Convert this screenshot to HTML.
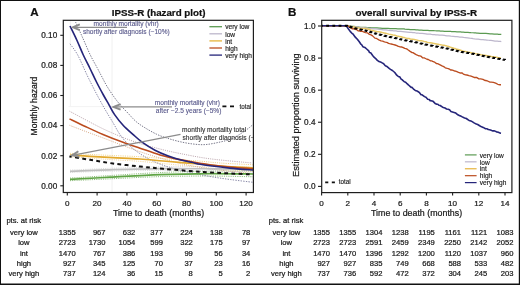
<!DOCTYPE html>
<html><head><meta charset="utf-8"><style>
html,body{margin:0;padding:0;background:#fff;}
body{width:520px;height:285px;overflow:hidden;position:relative;}
svg{position:absolute;left:0;top:0;}
text{font-family:"Liberation Sans", sans-serif;}
svg{will-change:transform;}
</style></head><body>
<svg width="520" height="285" viewBox="0 0 520 285" font-family='"Liberation Sans", sans-serif'>
<rect x="0" y="0" width="520" height="285" fill="#fff"/>
<defs><clipPath id="cl"><rect x="63.3" y="20.3" width="190.10000000000002" height="172.2"/></clipPath><clipPath id="cr"><rect x="321.7" y="20.3" width="190.2" height="172.1"/></clipPath></defs>
<g clip-path="url(#cl)">
<line x1="112.00" y1="20.3" x2="112.00" y2="192.5" stroke="#ececec" stroke-width="0.8"/>
<line x1="70.4" y1="20.3" x2="70.4" y2="106.6" stroke="#f0f0f0" stroke-width="0.8"/>
<line x1="68.6" y1="106.6" x2="113" y2="106.6" stroke="#efefef" stroke-width="0.8"/>
<path d="M70.00,178.10 C76.67,177.68 95.00,176.50 110.00,175.57 C125.00,174.65 143.33,173.30 160.00,172.57 C176.67,171.83 194.33,171.39 210.00,171.16 C225.67,170.93 246.67,171.19 254.00,171.20" fill="none" stroke="#7fb46a" stroke-width="0.9" stroke-dasharray="1.1,1.1" stroke-dashoffset="0" stroke-opacity="1" stroke-linecap="butt"/>
<path d="M70.00,180.70 C76.67,180.39 95.00,179.50 110.00,178.83 C125.00,178.15 143.33,177.10 160.00,176.63 C176.67,176.17 194.33,176.01 210.00,176.04 C225.67,176.07 246.67,176.67 254.00,176.80" fill="none" stroke="#7fb46a" stroke-width="0.9" stroke-dasharray="1.1,1.1" stroke-dashoffset="0" stroke-opacity="1" stroke-linecap="butt"/>
<path d="M70.00,170.10 C76.67,169.81 95.00,168.89 110.00,168.34 C125.00,167.79 143.33,167.08 160.00,166.81 C176.67,166.53 194.67,166.63 210.00,166.68 C225.33,166.73 245.00,167.03 252.00,167.10" fill="none" stroke="#d2d2d2" stroke-width="0.8" stroke-dasharray="1.1,1.1" stroke-dashoffset="0" stroke-opacity="1" stroke-linecap="butt"/>
<path d="M70.00,172.50 C76.67,172.29 95.00,171.61 110.00,171.26 C125.00,170.91 143.33,170.45 160.00,170.39 C176.67,170.34 194.67,170.67 210.00,170.92 C225.33,171.17 245.00,171.74 252.00,171.90" fill="none" stroke="#d2d2d2" stroke-width="0.8" stroke-dasharray="1.1,1.1" stroke-dashoffset="0" stroke-opacity="1" stroke-linecap="butt"/>
<path d="M70.00,153.30 C73.33,153.49 82.83,154.06 90.00,154.44 C97.17,154.81 104.67,155.17 113.00,155.55 C121.33,155.93 131.67,156.23 140.00,156.73 C148.33,157.23 155.50,157.97 163.00,158.54 C170.50,159.11 178.67,159.71 185.00,160.16 C191.33,160.61 195.00,160.75 201.00,161.23 C207.00,161.72 212.17,162.47 221.00,163.07 C229.83,163.66 248.50,164.51 254.00,164.80" fill="none" stroke="#f0d080" stroke-width="0.9" stroke-dasharray="1.1,1.1" stroke-dashoffset="0" stroke-opacity="1" stroke-linecap="butt"/>
<path d="M70.00,156.70 C73.33,156.95 82.83,157.69 90.00,158.20 C97.17,158.70 104.67,159.19 113.00,159.72 C121.33,160.25 131.67,160.74 140.00,161.38 C148.33,162.03 155.50,162.90 163.00,163.61 C170.50,164.32 178.67,165.06 185.00,165.62 C191.33,166.19 195.00,166.39 201.00,166.98 C207.00,167.57 212.17,168.42 221.00,169.18 C229.83,169.93 248.50,171.11 254.00,171.50" fill="none" stroke="#f0d498" stroke-width="0.9" stroke-dasharray="1.1,1.1" stroke-dashoffset="0" stroke-opacity="1" stroke-linecap="butt"/>
<path d="M69.50,111.20 C72.25,112.67 80.42,117.07 86.00,120.00 C91.58,122.93 96.83,125.88 103.00,128.80 C109.17,131.72 116.83,135.05 123.00,137.50 C129.17,139.95 133.83,141.58 140.00,143.50 C146.17,145.42 153.33,147.33 160.00,149.00 C166.67,150.67 171.67,151.87 180.00,153.50 C188.33,155.13 198.00,157.22 210.00,158.80 C222.00,160.38 245.00,162.30 252.00,163.00" fill="none" stroke="#b8a0a8" stroke-width="0.9" stroke-dasharray="1.1,1.1" stroke-dashoffset="0" stroke-opacity="1" stroke-linecap="butt"/>
<path d="M69.50,125.30 C72.25,126.35 80.42,129.50 86.00,131.60 C91.58,133.70 96.83,135.58 103.00,137.90 C109.17,140.22 116.83,143.20 123.00,145.50 C129.17,147.80 133.83,149.62 140.00,151.70 C146.17,153.78 152.50,155.87 160.00,158.00 C167.50,160.13 175.83,162.58 185.00,164.50 C194.17,166.42 203.83,168.00 215.00,169.50 C226.17,171.00 245.83,172.83 252.00,173.50" fill="none" stroke="#d8aa88" stroke-width="0.9" stroke-dasharray="1.1,1.1" stroke-dashoffset="0" stroke-opacity="1" stroke-linecap="butt"/>
<path d="M75.60,22.10 C76.83,24.83 80.55,33.02 83.00,38.50 C85.45,43.98 87.97,50.17 90.30,55.00 C92.63,59.83 95.05,63.83 97.00,67.50 C98.95,71.17 100.32,73.83 102.00,77.00 C103.68,80.17 105.02,83.07 107.10,86.50 C109.18,89.93 112.22,94.43 114.50,97.60 C116.78,100.77 118.52,102.87 120.80,105.50 C123.08,108.13 125.67,110.73 128.20,113.40 C130.73,116.07 133.20,119.10 136.00,121.50 C138.80,123.90 141.50,125.65 145.00,127.80 C148.50,129.95 153.17,132.63 157.00,134.40 C160.83,136.17 164.17,137.18 168.00,138.40 C171.83,139.62 175.83,140.77 180.00,141.70 C184.17,142.63 188.83,143.52 193.00,144.00 C197.17,144.48 200.83,144.85 205.00,144.60 C209.17,144.35 213.67,143.43 218.00,142.50 C222.33,141.57 227.17,140.50 231.00,139.00 C234.83,137.50 237.92,135.42 241.00,133.50 C244.08,131.58 247.33,129.17 249.50,127.50 C251.67,125.83 253.25,124.17 254.00,123.50" fill="none" stroke="#78788a" stroke-width="1.0" stroke-dasharray="1.4,1.2" stroke-dashoffset="0" stroke-opacity="1" stroke-linecap="butt"/>
<path d="M70.00,43.80 C71.28,45.67 74.87,49.80 77.70,55.00 C80.53,60.20 84.37,69.50 87.00,75.00 C89.63,80.50 91.82,84.67 93.50,88.00 C95.18,91.33 95.22,91.50 97.10,95.00 C98.98,98.50 102.12,104.33 104.80,109.00 C107.48,113.67 110.62,118.67 113.20,123.00 C115.78,127.33 117.50,131.17 120.30,135.00 C123.10,138.83 126.38,142.67 130.00,146.00 C133.62,149.33 137.83,152.33 142.00,155.00 C146.17,157.67 150.33,159.92 155.00,162.00 C159.67,164.08 164.17,165.75 170.00,167.50 C175.83,169.25 183.33,171.00 190.00,172.50 C196.67,174.00 203.33,175.33 210.00,176.50 C216.67,177.67 222.83,178.53 230.00,179.50 C237.17,180.47 249.17,181.83 253.00,182.30" fill="none" stroke="#8a8aa8" stroke-width="1.0" stroke-dasharray="1.4,1.2" stroke-dashoffset="0" stroke-opacity="1" stroke-linecap="butt"/>
<path d="M70.00,179.40 C76.67,179.03 95.00,178.00 110.00,177.20 C125.00,176.40 143.33,175.20 160.00,174.60 C176.67,174.00 194.33,173.70 210.00,173.60 C225.67,173.50 246.67,173.93 254.00,174.00" fill="none" stroke="#5fa444" stroke-width="1.7" stroke-opacity="1" stroke-linecap="butt"/>
<path d="M70.00,171.30 C76.67,171.05 95.00,170.25 110.00,169.80 C125.00,169.35 143.33,168.77 160.00,168.60 C176.67,168.43 194.67,168.65 210.00,168.80 C225.33,168.95 245.00,169.38 252.00,169.50" fill="none" stroke="#bfbfbf" stroke-width="1.7" stroke-opacity="1" stroke-linecap="butt"/>
<path d="M70.00,155.00 C73.33,155.22 82.83,155.87 90.00,156.30 C97.17,156.73 104.67,157.15 113.00,157.60 C121.33,158.05 131.67,158.43 140.00,159.00 C148.33,159.57 155.50,160.37 163.00,161.00 C170.50,161.63 178.67,162.30 185.00,162.80 C191.33,163.30 195.00,163.47 201.00,164.00 C207.00,164.53 212.17,165.33 221.00,166.00 C229.83,166.67 248.50,167.67 254.00,168.00" fill="none" stroke="#e2a92e" stroke-width="1.7" stroke-opacity="1" stroke-linecap="butt"/>
<path d="M69.50,118.90 C72.25,120.22 80.42,124.22 86.00,126.80 C91.58,129.38 96.83,131.82 103.00,134.40 C109.17,136.98 116.83,140.00 123.00,142.30 C129.17,144.60 133.83,146.10 140.00,148.20 C146.17,150.30 153.33,153.00 160.00,154.90 C166.67,156.80 173.33,158.22 180.00,159.60 C186.67,160.98 193.33,162.13 200.00,163.20 C206.67,164.27 211.00,165.03 220.00,166.00 C229.00,166.97 248.33,168.50 254.00,169.00" fill="none" stroke="#bb4c1f" stroke-width="1.6" stroke-opacity="1" stroke-linecap="butt"/>
<path d="M70.00,26.00 C71.17,28.42 74.78,35.67 77.00,40.50 C79.22,45.33 81.13,50.33 83.30,55.00 C85.47,59.67 87.80,64.00 90.00,68.50 C92.20,73.00 94.27,77.58 96.50,82.00 C98.73,86.42 101.32,91.20 103.40,95.00 C105.48,98.80 107.13,101.53 109.00,104.80 C110.87,108.07 112.25,111.20 114.60,114.60 C116.95,118.00 120.05,121.92 123.10,125.20 C126.15,128.48 129.68,131.43 132.90,134.30 C136.12,137.17 138.72,139.75 142.40,142.40 C146.08,145.05 150.78,147.97 155.00,150.20 C159.22,152.43 163.53,154.20 167.70,155.80 C171.87,157.40 176.03,158.72 180.00,159.80 C183.97,160.88 188.17,161.55 191.50,162.30 C194.83,163.05 196.92,163.72 200.00,164.30 C203.08,164.88 205.00,165.17 210.00,165.80 C215.00,166.43 222.67,167.37 230.00,168.10 C237.33,168.83 250.00,169.85 254.00,170.20" fill="none" stroke="#25257a" stroke-width="1.65" stroke-opacity="1" stroke-linecap="butt"/>
<path d="M69.40,156.40 C72.83,156.97 82.73,158.62 90.00,159.80 C97.27,160.98 104.67,162.38 113.00,163.50 C121.33,164.62 131.67,165.62 140.00,166.50 C148.33,167.38 154.67,168.05 163.00,168.80 C171.33,169.55 182.17,170.40 190.00,171.00 C197.83,171.60 203.33,172.00 210.00,172.40 C216.67,172.80 222.67,173.05 230.00,173.40 C237.33,173.75 250.00,174.32 254.00,174.50" fill="none" stroke="#111" stroke-width="2.0" stroke-dasharray="3.8,3.35" stroke-dashoffset="1.3" stroke-opacity="1" stroke-linecap="butt"/>
</g>
<line x1="127" y1="27.3" x2="73.00" y2="27.30" stroke="#8c8c8c" stroke-width="1.3"/>
<polyline points="79.80,24.40 73.00,27.30 79.80,30.20" fill="none" stroke="#8c8c8c" stroke-width="2.0" stroke-linejoin="miter" stroke-miterlimit="10"/>
<line x1="172" y1="106.8" x2="113.60" y2="106.90" stroke="#8c8c8c" stroke-width="1.3"/>
<polyline points="120.60,104.09 113.60,106.90 120.60,109.69" fill="none" stroke="#8c8c8c" stroke-width="2.0" stroke-linejoin="miter" stroke-miterlimit="10"/>
<line x1="180.5" y1="134.4" x2="72.20" y2="155.30" stroke="#8c8c8c" stroke-width="1.3"/>
<polyline points="78.35,151.26 72.20,155.30 79.41,156.76" fill="none" stroke="#8c8c8c" stroke-width="2.0" stroke-linejoin="miter" stroke-miterlimit="10"/>
<text x="93.6" y="26.2" font-size="6.6" fill="#5a5a8c" stroke="#5a5a8c" stroke-width="0.12" text-anchor="start" font-weight="normal" >monthly mortality (vhr)</text>
<text x="82.9" y="34.2" font-size="6.55" fill="#5a5a8c" stroke="#5a5a8c" stroke-width="0.12" text-anchor="start" font-weight="normal" >shortly after diagnosis (~10%)</text>
<text x="154.8" y="104.7" font-size="6.6" fill="#5a5a8c" stroke="#5a5a8c" stroke-width="0.12" text-anchor="start" font-weight="normal" >monthly mortality (vhr)</text>
<text x="155.8" y="113.4" font-size="6.6" fill="#5a5a8c" stroke="#5a5a8c" stroke-width="0.12" text-anchor="start" font-weight="normal" >after ~2.5 years (~5%)</text>
<g clip-path="url(#cl)">
<text x="182.1" y="132.1" font-size="6.6" fill="#333" stroke="#333" stroke-width="0.12" text-anchor="start" font-weight="normal" >monthly mortality total</text>
<text x="182.5" y="140.0" font-size="6.6" fill="#333" stroke="#333" stroke-width="0.12" text-anchor="start" font-weight="normal" >shortly after diagnosis (~10%)</text>
</g>
<line x1="222.4" y1="106.3" x2="234.4" y2="106.3" stroke="#111" stroke-width="1.7" stroke-dasharray="4,3.6"/>
<text x="239.5" y="109.2" font-size="6.3" fill="#2a2a2a" stroke="#2a2a2a" stroke-width="0.15" text-anchor="start" font-weight="normal" >total</text>
<line x1="209.4" y1="26.70" x2="222.0" y2="26.70" stroke="#5b9a52" stroke-width="1.3"/>
<text x="225.2" y="29.40" font-size="6.6" fill="#222" stroke="#222" stroke-width="0.15" text-anchor="start" font-weight="normal" >very low</text>
<line x1="209.4" y1="33.80" x2="222.0" y2="33.80" stroke="#bdb7cc" stroke-width="1.3"/>
<text x="225.2" y="36.50" font-size="6.6" fill="#222" stroke="#222" stroke-width="0.15" text-anchor="start" font-weight="normal" >low</text>
<line x1="209.4" y1="40.90" x2="222.0" y2="40.90" stroke="#e6b43c" stroke-width="1.3"/>
<text x="225.2" y="43.60" font-size="6.6" fill="#222" stroke="#222" stroke-width="0.15" text-anchor="start" font-weight="normal" >int</text>
<line x1="209.4" y1="48.00" x2="222.0" y2="48.00" stroke="#bb4c1f" stroke-width="1.3"/>
<text x="225.2" y="50.70" font-size="6.6" fill="#222" stroke="#222" stroke-width="0.15" text-anchor="start" font-weight="normal" >high</text>
<line x1="209.4" y1="55.10" x2="222.0" y2="55.10" stroke="#25257a" stroke-width="1.3"/>
<text x="225.2" y="57.80" font-size="6.6" fill="#222" stroke="#222" stroke-width="0.15" text-anchor="start" font-weight="normal" >very high</text>
<rect x="63.3" y="20.3" width="190.10" height="172.20" fill="none" stroke="#1e1e1e" stroke-width="1.2"/>
<line x1="60.3" y1="185.80" x2="63.3" y2="185.80" stroke="#1e1e1e" stroke-width="1.1"/>
<text x="57.2" y="188.65" font-size="8.2" fill="#1a1a1a" stroke="#1a1a1a" stroke-width="0.22" text-anchor="end" font-weight="normal" >0.00</text>
<line x1="60.3" y1="155.70" x2="63.3" y2="155.70" stroke="#1e1e1e" stroke-width="1.1"/>
<text x="57.2" y="158.55" font-size="8.2" fill="#1a1a1a" stroke="#1a1a1a" stroke-width="0.22" text-anchor="end" font-weight="normal" >0.02</text>
<line x1="60.3" y1="125.60" x2="63.3" y2="125.60" stroke="#1e1e1e" stroke-width="1.1"/>
<text x="57.2" y="128.45" font-size="8.2" fill="#1a1a1a" stroke="#1a1a1a" stroke-width="0.22" text-anchor="end" font-weight="normal" >0.04</text>
<line x1="60.3" y1="95.50" x2="63.3" y2="95.50" stroke="#1e1e1e" stroke-width="1.1"/>
<text x="57.2" y="98.35" font-size="8.2" fill="#1a1a1a" stroke="#1a1a1a" stroke-width="0.22" text-anchor="end" font-weight="normal" >0.06</text>
<line x1="60.3" y1="65.40" x2="63.3" y2="65.40" stroke="#1e1e1e" stroke-width="1.1"/>
<text x="57.2" y="68.25" font-size="8.2" fill="#1a1a1a" stroke="#1a1a1a" stroke-width="0.22" text-anchor="end" font-weight="normal" >0.08</text>
<line x1="60.3" y1="35.30" x2="63.3" y2="35.30" stroke="#1e1e1e" stroke-width="1.1"/>
<text x="57.2" y="38.15" font-size="8.2" fill="#1a1a1a" stroke="#1a1a1a" stroke-width="0.22" text-anchor="end" font-weight="normal" >0.10</text>
<line x1="67.30" y1="192.5" x2="67.30" y2="195.6" stroke="#1e1e1e" stroke-width="1.1"/>
<text x="67.30" y="205.8" font-size="8.1" fill="#1a1a1a" stroke="#1a1a1a" stroke-width="0.22" text-anchor="middle" font-weight="normal" >0</text>
<line x1="97.10" y1="192.5" x2="97.10" y2="195.6" stroke="#1e1e1e" stroke-width="1.1"/>
<text x="97.10" y="205.8" font-size="8.1" fill="#1a1a1a" stroke="#1a1a1a" stroke-width="0.22" text-anchor="middle" font-weight="normal" >20</text>
<line x1="126.90" y1="192.5" x2="126.90" y2="195.6" stroke="#1e1e1e" stroke-width="1.1"/>
<text x="126.90" y="205.8" font-size="8.1" fill="#1a1a1a" stroke="#1a1a1a" stroke-width="0.22" text-anchor="middle" font-weight="normal" >40</text>
<line x1="156.70" y1="192.5" x2="156.70" y2="195.6" stroke="#1e1e1e" stroke-width="1.1"/>
<text x="156.70" y="205.8" font-size="8.1" fill="#1a1a1a" stroke="#1a1a1a" stroke-width="0.22" text-anchor="middle" font-weight="normal" >60</text>
<line x1="186.50" y1="192.5" x2="186.50" y2="195.6" stroke="#1e1e1e" stroke-width="1.1"/>
<text x="186.50" y="205.8" font-size="8.1" fill="#1a1a1a" stroke="#1a1a1a" stroke-width="0.22" text-anchor="middle" font-weight="normal" >80</text>
<line x1="216.30" y1="192.5" x2="216.30" y2="195.6" stroke="#1e1e1e" stroke-width="1.1"/>
<text x="216.30" y="205.8" font-size="8.1" fill="#1a1a1a" stroke="#1a1a1a" stroke-width="0.22" text-anchor="middle" font-weight="normal" >100</text>
<line x1="246.10" y1="192.5" x2="246.10" y2="195.6" stroke="#1e1e1e" stroke-width="1.1"/>
<text x="246.10" y="205.8" font-size="8.1" fill="#1a1a1a" stroke="#1a1a1a" stroke-width="0.22" text-anchor="middle" font-weight="normal" >120</text>
<text x="158.6" y="216.1" font-size="8.85" fill="#1a1a1a" stroke="#1a1a1a" stroke-width="0.22" text-anchor="middle" font-weight="normal" >Time to death (months)</text>
<text x="0" y="0" font-size="8.6" fill="#1a1a1a" stroke="#1a1a1a" stroke-width="0.22" text-anchor="middle" font-weight="normal" transform="translate(36.7,106) rotate(-90)">Monthly hazard</text>
<text x="158.6" y="15.8" font-size="9.75" fill="#111" stroke="#111" stroke-width="0.22" text-anchor="middle" font-weight="bold" >IPSS-R (hazard plot)</text>
<text x="30.2" y="15.8" font-size="11.6" fill="#111" stroke="#111" stroke-width="0.22" text-anchor="start" font-weight="bold" >A</text>
<g clip-path="url(#cr)">
<path d="M321.6,25.7 L346.3,25.7 L347.31,25.88 L349.34,25.97 L350.93,26.18 L352.77,26.45 L353.72,26.45 L355.86,26.70 L357.88,26.83 L359.39,27.14 L360.56,27.30 L362.80,27.30 L363.64,27.37 L365.94,27.46 L367.09,27.53 L367.94,27.53 L369.44,27.66 L370.61,27.67 L371.76,27.77 L373.02,27.77 L375.16,27.96 L376.99,27.98 L379.38,28.24 L380.37,28.24 L382.33,28.31 L384.63,28.32 L386.75,28.44 L388.04,28.46 L390.25,28.58 L391.86,28.58 L392.71,28.58 L394.79,28.63 L395.87,28.69 L397.79,28.77 L399.19,28.77 L400.81,28.91 L402.44,28.94 L404.02,28.97 L404.89,29.16 L407.27,29.29 L408.69,29.30 L410.30,29.57 L412.33,29.61 L414.51,29.69 L416.13,29.94 L417.85,29.95 L419.09,30.05 L421.42,30.07 L423.47,30.32 L425.69,30.41 L427.78,30.46 L429.48,30.52 L430.37,30.65 L432.08,30.65 L433.69,30.72 L435.06,30.75 L436.72,30.88 L438.50,30.93 L439.35,30.93 L440.43,31.05 L442.61,31.19 L444.68,31.29 L445.89,31.35 L447.77,31.35 L448.60,31.35 L450.61,31.45 L451.58,31.57 L452.93,31.57 L453.99,31.66 L455.06,31.66 L456.99,31.78 L458.31,31.85 L459.15,31.87 L460.62,31.90 L461.59,32.09 L463.21,32.09 L464.98,32.29 L465.81,32.29 L466.85,32.39 L467.90,32.46 L469.79,32.55 L470.94,32.71 L473.02,32.75 L474.18,32.85 L475.61,32.93 L476.92,33.03 L477.82,33.03 L480.16,33.28 L481.45,33.35 L482.75,33.44 L484.74,33.45 L485.95,33.45 L488.15,33.57 L490.26,33.87 L491.97,33.87 L494.16,34.09 L496.09,34.11 L497.49,34.15 L498.62,34.28 L500.12,34.28 L501.08,34.42 L501.30,34.42" fill="none" stroke="#5b9a52" stroke-width="1.25" stroke-linejoin="round"/>
<path d="M321.6,25.7 L346.3,25.7 L348.63,26.06 L349.52,26.06 L351.66,26.37 L353.53,26.51 L355.30,26.77 L357.03,26.88 L358.52,27.11 L360.47,27.45 L362.79,27.60 L364.30,27.71 L365.16,27.75 L366.71,27.97 L368.11,28.23 L369.76,28.34 L370.93,28.35 L372.25,28.51 L373.87,28.86 L375.75,28.89 L377.98,29.25 L379.95,29.48 L381.97,29.66 L383.34,29.83 L385.68,29.90 L387.69,30.21 L389.22,30.33 L390.81,30.57 L392.41,30.71 L393.78,30.85 L396.02,30.99 L397.72,31.26 L399.68,31.37 L400.84,31.44 L402.76,31.59 L405.01,31.83 L407.27,32.05 L409.60,32.35 L411.21,32.47 L413.05,32.66 L414.35,32.70 L415.97,33.00 L417.76,33.00 L419.88,33.33 L422.13,33.43 L424.12,33.59 L425.96,33.80 L427.13,34.02 L428.10,34.04 L430.26,34.18 L431.40,34.41 L432.88,34.51 L433.73,34.52 L434.80,34.68 L435.73,34.82 L436.58,34.85 L437.41,34.85 L439.51,35.01 L440.60,35.21 L442.02,35.21 L444.41,35.45 L445.26,35.57 L447.05,35.83 L448.03,35.84 L448.88,35.95 L450.90,36.21 L453.15,36.43 L455.33,36.63 L456.88,36.69 L458.74,36.89 L459.70,37.01 L461.90,37.17 L463.64,37.43 L465.26,37.58 L467.60,37.88 L469.37,38.12 L470.20,38.25 L471.22,38.27 L472.08,38.39 L473.03,38.60 L474.64,38.86 L476.94,39.13 L478.11,39.16 L479.31,39.34 L481.11,39.57 L483.04,39.67 L484.52,39.87 L485.33,39.87 L486.78,40.02 L488.74,40.25 L489.70,40.34 L490.87,40.47 L492.50,40.68 L493.80,40.85 L494.94,41.02 L497.28,41.23 L498.77,41.34 L500.50,41.43 L501.30,41.61" fill="none" stroke="#bdb7cc" stroke-width="1.25" stroke-linejoin="round"/>
<path d="M321.6,25.7 L346.3,25.7 L347.48,25.94 L348.87,26.23 L350.67,26.42 L351.49,26.81 L352.71,26.86 L355.10,27.33 L357.24,27.68 L359.06,27.88 L360.88,28.39 L362.52,28.52 L364.39,28.52 L366.40,28.85 L367.69,29.02 L369.87,29.71 L371.82,30.34 L373.76,30.85 L375.20,31.18 L376.71,31.58 L378.91,31.79 L379.93,32.04 L382.28,32.59 L384.08,32.93 L385.69,33.29 L387.05,33.64 L388.79,34.13 L390.68,34.56 L392.85,35.07 L394.72,35.25 L396.90,35.98 L399.15,36.41 L401.09,36.79 L403.22,37.43 L404.47,37.59 L406.64,38.36 L407.58,38.47 L409.04,38.54 L410.31,38.95 L412.51,39.13 L414.29,39.44 L416.24,39.88 L418.45,40.47 L420.06,40.76 L421.35,40.77 L423.11,41.14 L424.23,41.49 L426.00,41.77 L426.87,42.15 L428.17,42.42 L430.41,42.68 L431.95,43.02 L433.78,43.39 L435.47,43.73 L437.78,44.16 L439.27,44.52 L440.45,44.63 L442.81,45.17 L444.49,45.35 L445.95,45.81 L446.78,46.08 L448.60,46.48 L450.40,47.16 L452.29,47.71 L454.22,48.43 L455.05,48.48 L456.93,49.35 L458.14,49.57 L459.88,50.08 L461.27,50.51 L462.66,51.03 L463.94,51.29 L465.97,51.60 L467.68,52.16 L468.98,52.27 L471.07,52.70 L472.17,52.99 L474.08,53.28 L475.40,53.61 L477.53,54.08 L479.70,54.44 L481.04,54.81 L483.26,55.11 L484.42,55.20 L486.06,55.49 L488.15,56.02 L489.25,56.03 L491.34,56.48 L493.43,56.73 L494.44,56.87 L496.51,57.20 L497.86,57.47 L499.33,57.70 L501.00,57.90" fill="none" stroke="#e8c865" stroke-width="1.5" stroke-linejoin="round"/>
<path d="M321.6,25.7 L346.3,25.7 L347.48,25.93 L348.91,26.70 L349.82,27.37 L352.09,28.73 L354.11,28.89 L355.77,29.49 L356.85,29.69 L357.99,30.78 L360.12,31.20 L362.20,31.20 L363.49,31.89 L365.46,32.58 L367.67,32.92 L369.44,34.38 L371.05,34.86 L372.61,35.89 L374.90,38.13 L376.58,38.46 L378.83,39.82 L381.04,40.91 L382.66,41.13 L384.42,41.82 L385.47,42.11 L387.57,42.63 L388.45,43.41 L389.70,43.70 L391.25,43.98 L393.65,44.56 L395.11,45.00 L396.92,45.60 L398.29,46.45 L399.60,46.71 L401.85,47.03 L402.75,47.44 L404.77,48.45 L405.95,48.58 L407.04,49.04 L407.90,49.70 L410.14,51.34 L412.11,52.60 L412.94,52.60 L415.29,54.07 L416.75,54.96 L418.54,55.75 L419.81,55.80 L421.32,56.48 L422.73,57.91 L424.06,57.91 L424.93,58.24 L426.98,59.25 L428.25,59.53 L430.62,60.80 L431.75,60.91 L432.64,61.35 L434.52,62.06 L435.39,62.71 L436.59,63.63 L437.58,63.67 L439.62,64.60 L442.00,65.87 L443.19,66.41 L444.05,66.81 L445.25,67.78 L447.37,68.41 L448.23,68.58 L449.41,69.03 L450.58,69.98 L451.61,69.98 L453.90,70.72 L456.28,71.30 L458.52,72.27 L460.59,73.02 L462.18,73.02 L463.32,74.03 L465.56,74.81 L466.89,75.01 L468.97,75.66 L471.08,76.18 L472.92,76.87 L474.15,77.45 L476.48,77.45 L478.84,78.88 L480.71,78.88 L482.94,79.35 L485.29,80.53 L486.19,80.53 L488.01,81.24 L490.00,82.15 L491.15,82.15 L493.43,82.33 L495.63,83.07 L497.73,84.29 L499.93,84.73 L501.00,84.73" fill="none" stroke="#bb4c1f" stroke-width="1.35" stroke-linejoin="round"/>
<path d="M321.6,25.7 L346.3,25.7 L348.10,28.52 L350.17,31.35 L352.15,33.55 L353.00,33.96 L355.31,37.18 L357.55,39.45 L359.10,41.57 L360.77,44.05 L361.59,44.65 L362.84,46.69 L364.86,47.45 L366.94,49.25 L368.73,50.92 L369.53,52.56 L370.67,52.84 L373.04,56.02 L374.30,57.41 L375.96,58.76 L377.09,60.19 L379.00,61.56 L381.23,62.32 L382.60,63.12 L383.64,63.72 L384.92,65.32 L385.72,66.01 L387.06,66.58 L389.17,68.38 L390.48,69.36 L392.41,70.51 L394.77,72.50 L396.77,75.21 L397.60,75.86 L398.98,76.79 L399.80,76.85 L400.89,78.88 L402.00,79.59 L404.29,81.76 L405.64,82.16 L407.28,83.99 L408.25,84.75 L410.33,86.57 L411.19,87.37 L412.13,87.41 L413.91,89.41 L415.25,90.41 L416.92,90.91 L418.23,91.72 L419.16,92.36 L421.06,94.78 L422.12,94.78 L424.50,96.61 L425.95,97.26 L427.70,99.18 L429.23,99.58 L430.11,100.65 L430.97,100.65 L433.11,101.35 L435.08,103.41 L436.89,104.19 L437.86,104.27 L438.90,105.29 L440.17,105.48 L442.57,107.19 L444.93,107.90 L446.51,109.00 L448.08,109.24 L449.52,109.77 L450.93,111.47 L453.26,112.19 L454.86,112.67 L455.80,113.07 L457.85,114.84 L459.23,115.45 L461.27,116.35 L463.13,117.34 L464.52,117.95 L465.77,118.30 L467.80,119.53 L469.07,120.48 L470.91,120.98 L471.73,121.36 L472.93,122.13 L474.47,123.09 L476.30,124.01 L477.66,124.52 L479.64,125.76 L481.00,126.47 L483.19,127.41 L485.55,128.71 L487.18,128.79 L488.25,129.54 L490.55,129.95 L492.45,130.89 L494.42,130.89 L496.47,131.84 L498.34,132.17 L500.13,133.09 L501.00,133.26" fill="none" stroke="#25257a" stroke-width="1.6" stroke-linejoin="round"/>
<path d="M321.60,25.70 H322.00 H322.40 H322.80 H323.20 H323.60 H324.00 H324.40 H324.80 H325.20 H325.60 H326.00 H326.40 H326.80 H327.20 H327.60 H328.00 H328.40 H328.80 H329.20 H329.60 H330.00 H330.40 H330.80 H331.20 H331.60 H332.00 H332.40 H332.80 H333.20 H333.60 H334.00 H334.40 H334.80 H335.20 H335.60 H336.00 H336.40 H336.80 H337.20 H337.60 H338.00 H338.40 H338.80 H339.20 H339.60 H340.00 H340.40 H340.80 H341.20 H341.60 H342.00 H342.40 H342.80 H343.20 H343.60 H344.00 H344.40 H344.80 H345.20 H345.60 H346.00 H346.40 V25.73 H346.80 V25.86 H347.20 V25.99 H347.60 V26.12 H348.00 V26.25 H348.40 V26.38 H348.80 V26.51 H349.20 V26.64 H349.60 V26.77 H350.00 V26.90 H350.40 V27.03 H350.80 V27.16 H351.20 V27.29 H351.60 V27.42 H352.00 V27.55 H352.40 V27.68 H352.80 V27.81 H353.20 V27.94 H353.60 V28.04 H354.00 V28.13 H354.40 V28.22 H354.80 V28.31 H355.20 V28.40 H355.60 V28.49 H356.00 V28.58 H356.40 V28.67 H356.80 V28.76 H357.20 V28.85 H357.60 V28.94 H358.00 V29.03 H358.40 V29.12 H358.80 V29.21 H359.20 V29.30 H359.60 V29.39 H360.00 V29.48 H360.40 V29.57 H360.80 V29.66 H361.20 V29.74 H361.60 V29.82 H362.00 V29.91 H362.40 V29.99 H362.80 V30.07 H363.20 V30.16 H363.60 V30.24 H364.00 V30.32 H364.40 V30.41 H364.80 V30.49 H365.20 V30.57 H365.60 V30.65 H366.00 V30.74 H366.40 V30.83 H366.80 V30.95 H367.20 V31.07 H367.60 V31.19 H368.00 V31.31 H368.40 V31.43 H368.80 V31.55 H369.20 V31.67 H369.60 V31.79 H370.00 V31.91 H370.40 V32.03 H370.80 V32.15 H371.20 V32.27 H371.60 V32.40 H372.00 V32.52 H372.40 V32.64 H372.80 V32.76 H373.20 V32.88 H373.60 V33.00 H374.00 V33.12 H374.40 V33.24 H374.80 V33.36 H375.20 V33.48 H375.60 V33.60 H376.00 V33.72 H376.40 V33.84 H376.80 V33.95 H377.20 V34.04 H377.60 V34.14 H378.00 V34.24 H378.40 V34.33 H378.80 V34.43 H379.20 V34.52 H379.60 V34.62 H380.00 V34.72 H380.40 V34.81 H380.80 V34.91 H381.20 V35.01 H381.60 V35.10 H382.00 V35.20 H382.40 V35.29 H382.80 V35.39 H383.20 V35.49 H383.60 V35.58 H384.00 V35.68 H384.40 V35.77 H384.80 V35.87 H385.20 V35.97 H385.60 V36.06 H386.00 V36.16 H386.40 V36.26 H386.80 V36.35 H387.20 V36.44 H387.60 V36.52 H388.00 V36.61 H388.40 V36.69 H388.80 V36.77 H389.20 V36.86 H389.60 V36.94 H390.00 V37.02 H390.40 V37.11 H390.80 V37.19 H391.20 V37.27 H391.60 V37.35 H392.00 V37.44 H392.40 V37.52 H392.80 V37.60 H393.20 V37.69 H393.60 V37.77 H394.00 V37.85 H394.40 V37.94 H394.80 V38.02 H395.20 V38.10 H395.60 V38.18 H396.00 V38.27 H396.40 V38.35 H396.80 V38.43 H397.20 V38.52 H397.60 V38.60 H398.00 V38.69 H398.40 V38.78 H398.80 V38.87 H399.20 V38.96 H399.60 V39.05 H400.00 V39.14 H400.40 V39.23 H400.80 V39.32 H401.20 V39.41 H401.60 V39.50 H402.00 V39.60 H402.40 V39.69 H402.80 V39.78 H403.20 V39.87 H403.60 V39.96 H404.00 V40.05 H404.40 V40.14 H404.80 V40.23 H405.20 V40.32 H405.60 V40.41 H406.00 V40.50 H406.40 V40.57 H406.80 V40.64 H407.20 V40.71 H407.60 V40.77 H408.00 V40.84 H408.40 V40.91 H408.80 V40.98 H409.20 V41.05 H409.60 V41.12 H410.00 V41.18 H410.40 V41.25 H410.80 V41.32 H411.20 V41.39 H411.60 V41.46 H412.00 V41.53 H412.40 V41.59 H412.80 V41.66 H413.20 V41.73 H413.60 V41.80 H414.00 V41.89 H414.40 V41.99 H414.80 V42.08 H415.20 V42.18 H415.60 V42.27 H416.00 V42.37 H416.40 V42.46 H416.80 V42.56 H417.20 V42.65 H417.60 V42.75 H418.00 V42.84 H418.40 V42.93 H418.80 V43.03 H419.20 V43.12 H419.60 V43.22 H420.00 V43.31 H420.40 V43.41 H420.80 V43.50 H421.20 V43.60 H421.60 V43.69 H422.00 V43.79 H422.40 V43.88 H422.80 V43.97 H423.20 V44.07 H423.60 V44.16 H424.00 V44.26 H424.40 V44.35 H424.80 V44.44 H425.20 V44.51 H425.60 V44.59 H426.00 V44.67 H426.40 V44.74 H426.80 V44.82 H427.20 V44.90 H427.60 V44.97 H428.00 V45.05 H428.40 V45.12 H428.80 V45.20 H429.20 V45.28 H429.60 V45.35 H430.00 V45.43 H430.40 V45.50 H430.80 V45.58 H431.20 V45.66 H431.60 V45.73 H432.00 V45.81 H432.40 V45.89 H432.80 V45.96 H433.20 V46.04 H433.60 V46.11 H434.00 V46.18 H434.40 V46.25 H434.80 V46.32 H435.20 V46.39 H435.60 V46.46 H436.00 V46.53 H436.40 V46.60 H436.80 V46.68 H437.20 V46.75 H437.60 V46.82 H438.00 V46.89 H438.40 V46.96 H438.80 V47.03 H439.20 V47.10 H439.60 V47.17 H440.00 V47.24 H440.40 V47.32 H440.80 V47.39 H441.20 V47.46 H441.60 V47.53 H442.00 V47.60 H442.40 V47.67 H442.80 V47.74 H443.20 V47.81 H443.60 V47.88 H444.00 V47.96 H444.40 V48.03 H444.80 V48.10 H445.20 V48.17 H445.60 V48.24 H446.00 V48.31 H446.40 V48.38 H446.80 V48.47 H447.20 V48.57 H447.60 V48.67 H448.00 V48.77 H448.40 V48.86 H448.80 V48.96 H449.20 V49.06 H449.60 V49.16 H450.00 V49.26 H450.40 V49.35 H450.80 V49.45 H451.20 V49.55 H451.60 V49.65 H452.00 V49.74 H452.40 V49.84 H452.80 V49.94 H453.20 V50.04 H453.60 V50.14 H454.00 V50.23 H454.40 V50.33 H454.80 V50.43 H455.20 V50.53 H455.60 V50.62 H456.00 V50.72 H456.40 V50.82 H456.80 V50.92 H457.20 V51.02 H457.60 V51.11 H458.00 V51.21 H458.40 V51.31 H458.80 V51.41 H459.20 V51.50 H459.60 V51.60 H460.00 V51.70 H460.40 V51.76 H460.80 V51.83 H461.20 V51.89 H461.60 V51.96 H462.00 V52.02 H462.40 V52.08 H462.80 V52.15 H463.20 V52.21 H463.60 V52.27 H464.00 V52.34 H464.40 V52.40 H464.80 V52.47 H465.20 V52.53 H465.60 V52.59 H466.00 V52.66 H466.40 V52.72 H466.80 V52.79 H467.20 V52.85 H467.60 V52.91 H468.00 V52.98 H468.40 V53.04 H468.80 V53.11 H469.20 V53.17 H469.60 V53.23 H470.00 V53.30 H470.40 V53.36 H470.80 V53.42 H471.20 V53.49 H471.60 V53.55 H472.00 V53.62 H472.40 V53.71 H472.80 V53.79 H473.20 V53.88 H473.60 V53.96 H474.00 V54.05 H474.40 V54.13 H474.80 V54.22 H475.20 V54.31 H475.60 V54.39 H476.00 V54.48 H476.40 V54.56 H476.80 V54.65 H477.20 V54.73 H477.60 V54.82 H478.00 V54.90 H478.40 V54.99 H478.80 V55.07 H479.20 V55.16 H479.60 V55.25 H480.00 V55.33 H480.40 V55.42 H480.80 V55.50 H481.20 V55.59 H481.60 V55.67 H482.00 V55.76 H482.40 V55.84 H482.80 V55.93 H483.20 V56.02 H483.60 V56.10 H484.00 V56.19 H484.40 V56.27 H484.80 V56.36 H485.20 V56.43 H485.60 V56.50 H486.00 V56.57 H486.40 V56.64 H486.80 V56.71 H487.20 V56.78 H487.60 V56.85 H488.00 V56.92 H488.40 V56.99 H488.80 V57.06 H489.20 V57.13 H489.60 V57.20 H490.00 V57.27 H490.40 V57.34 H490.80 V57.41 H491.20 V57.48 H491.60 V57.55 H492.00 V57.62 H492.40 V57.69 H492.80 V57.76 H493.20 V57.83 H493.60 V57.90 H494.00 V57.97 H494.40 V58.04 H494.80 V58.11 H495.20 V58.18 H495.60 V58.25 H496.00 V58.32 H496.40 V58.39 H496.80 V58.46 H497.20 V58.53 H497.60 V58.60 H498.00 V58.67 H498.40 V58.74 H498.80 V58.81 H499.20 V58.88 H499.60 V58.95 H500.00 V59.02 H500.40 V59.09 H500.80 V59.16 H501.20 V59.23 H501.60 V59.30 H502.00 V59.37 H502.40 V59.44 H502.80 V59.51 H503.20 V59.58 H503.60 V59.65 H504.00 V59.72 H504.40 V59.79 H504.80 V59.86 H505.00 V59.90" fill="none" stroke="#000" stroke-width="1.85" stroke-dasharray="2.8,3.4" stroke-dashoffset="1.6"/>
</g>
<line x1="464.9" y1="154.90" x2="476.6" y2="154.90" stroke="#5b9a52" stroke-width="1.2"/>
<text x="479.8" y="157.60" font-size="6.55" fill="#222" stroke="#222" stroke-width="0.15" text-anchor="start" font-weight="normal" >very low</text>
<line x1="464.9" y1="161.83" x2="476.6" y2="161.83" stroke="#bdb7cc" stroke-width="1.2"/>
<text x="479.8" y="164.53" font-size="6.55" fill="#222" stroke="#222" stroke-width="0.15" text-anchor="start" font-weight="normal" >low</text>
<line x1="464.9" y1="168.76" x2="476.6" y2="168.76" stroke="#e6b43c" stroke-width="1.2"/>
<text x="479.8" y="171.46" font-size="6.55" fill="#222" stroke="#222" stroke-width="0.15" text-anchor="start" font-weight="normal" >int</text>
<line x1="464.9" y1="175.69" x2="476.6" y2="175.69" stroke="#bb4c1f" stroke-width="1.2"/>
<text x="479.8" y="178.39" font-size="6.55" fill="#222" stroke="#222" stroke-width="0.15" text-anchor="start" font-weight="normal" >high</text>
<line x1="464.9" y1="182.62" x2="476.6" y2="182.62" stroke="#25257a" stroke-width="1.2"/>
<text x="479.8" y="185.32" font-size="6.55" fill="#222" stroke="#222" stroke-width="0.15" text-anchor="start" font-weight="normal" >very high</text>
<line x1="325.2" y1="182.3" x2="335.0" y2="182.3" stroke="#111" stroke-width="1.7" stroke-dasharray="3.1,3.5"/>
<text x="338.7" y="184.2" font-size="6.3" fill="#222" stroke="#222" stroke-width="0.15" text-anchor="start" font-weight="normal" >total</text>
<rect x="321.7" y="20.3" width="190.20" height="172.30" fill="none" stroke="#1e1e1e" stroke-width="1.2"/>
<line x1="318.0" y1="186.40" x2="321.7" y2="186.40" stroke="#1e1e1e" stroke-width="1.1"/>
<text x="315.5" y="189.25" font-size="8.2" fill="#1a1a1a" stroke="#1a1a1a" stroke-width="0.22" text-anchor="end" font-weight="normal" >0.0</text>
<line x1="318.0" y1="154.32" x2="321.7" y2="154.32" stroke="#1e1e1e" stroke-width="1.1"/>
<text x="315.5" y="157.17" font-size="8.2" fill="#1a1a1a" stroke="#1a1a1a" stroke-width="0.22" text-anchor="end" font-weight="normal" >0.2</text>
<line x1="318.0" y1="122.24" x2="321.7" y2="122.24" stroke="#1e1e1e" stroke-width="1.1"/>
<text x="315.5" y="125.09" font-size="8.2" fill="#1a1a1a" stroke="#1a1a1a" stroke-width="0.22" text-anchor="end" font-weight="normal" >0.4</text>
<line x1="318.0" y1="90.16" x2="321.7" y2="90.16" stroke="#1e1e1e" stroke-width="1.1"/>
<text x="315.5" y="93.01" font-size="8.2" fill="#1a1a1a" stroke="#1a1a1a" stroke-width="0.22" text-anchor="end" font-weight="normal" >0.6</text>
<line x1="318.0" y1="58.08" x2="321.7" y2="58.08" stroke="#1e1e1e" stroke-width="1.1"/>
<text x="315.5" y="60.93" font-size="8.2" fill="#1a1a1a" stroke="#1a1a1a" stroke-width="0.22" text-anchor="end" font-weight="normal" >0.8</text>
<line x1="318.0" y1="26.00" x2="321.7" y2="26.00" stroke="#1e1e1e" stroke-width="1.1"/>
<text x="315.5" y="28.85" font-size="8.2" fill="#1a1a1a" stroke="#1a1a1a" stroke-width="0.22" text-anchor="end" font-weight="normal" >1.0</text>
<line x1="321.60" y1="192.6" x2="321.60" y2="195.6" stroke="#1e1e1e" stroke-width="1.1"/>
<text x="321.60" y="205.8" font-size="8.1" fill="#1a1a1a" stroke="#1a1a1a" stroke-width="0.22" text-anchor="middle" font-weight="normal" >0</text>
<line x1="347.80" y1="192.6" x2="347.80" y2="195.6" stroke="#1e1e1e" stroke-width="1.1"/>
<text x="347.80" y="205.8" font-size="8.1" fill="#1a1a1a" stroke="#1a1a1a" stroke-width="0.22" text-anchor="middle" font-weight="normal" >2</text>
<line x1="374.00" y1="192.6" x2="374.00" y2="195.6" stroke="#1e1e1e" stroke-width="1.1"/>
<text x="374.00" y="205.8" font-size="8.1" fill="#1a1a1a" stroke="#1a1a1a" stroke-width="0.22" text-anchor="middle" font-weight="normal" >4</text>
<line x1="400.20" y1="192.6" x2="400.20" y2="195.6" stroke="#1e1e1e" stroke-width="1.1"/>
<text x="400.20" y="205.8" font-size="8.1" fill="#1a1a1a" stroke="#1a1a1a" stroke-width="0.22" text-anchor="middle" font-weight="normal" >6</text>
<line x1="426.40" y1="192.6" x2="426.40" y2="195.6" stroke="#1e1e1e" stroke-width="1.1"/>
<text x="426.40" y="205.8" font-size="8.1" fill="#1a1a1a" stroke="#1a1a1a" stroke-width="0.22" text-anchor="middle" font-weight="normal" >8</text>
<line x1="452.60" y1="192.6" x2="452.60" y2="195.6" stroke="#1e1e1e" stroke-width="1.1"/>
<text x="452.60" y="205.8" font-size="8.1" fill="#1a1a1a" stroke="#1a1a1a" stroke-width="0.22" text-anchor="middle" font-weight="normal" >10</text>
<line x1="478.80" y1="192.6" x2="478.80" y2="195.6" stroke="#1e1e1e" stroke-width="1.1"/>
<text x="478.80" y="205.8" font-size="8.1" fill="#1a1a1a" stroke="#1a1a1a" stroke-width="0.22" text-anchor="middle" font-weight="normal" >12</text>
<line x1="505.00" y1="192.6" x2="505.00" y2="195.6" stroke="#1e1e1e" stroke-width="1.1"/>
<text x="505.00" y="205.8" font-size="8.1" fill="#1a1a1a" stroke="#1a1a1a" stroke-width="0.22" text-anchor="middle" font-weight="normal" >14</text>
<text x="416.6" y="216.1" font-size="8.85" fill="#1a1a1a" stroke="#1a1a1a" stroke-width="0.22" text-anchor="middle" font-weight="normal" >Time to death (months)</text>
<text x="0" y="0" font-size="9.2" fill="#1a1a1a" stroke="#1a1a1a" stroke-width="0.22" text-anchor="middle" font-weight="normal" transform="translate(298.6,115.1) rotate(-90)">Estimated proportion surviving</text>
<text x="416.3" y="16.1" font-size="9.85" fill="#111" stroke="#111" stroke-width="0.22" text-anchor="middle" font-weight="bold" >overall survival by IPSS-R</text>
<text x="288.0" y="15.7" font-size="11.6" fill="#111" stroke="#111" stroke-width="0.22" text-anchor="start" font-weight="bold" >B</text>
<text x="6.4" y="223.3" font-size="7.6" fill="#1a1a1a" stroke="#1a1a1a" stroke-width="0.22" text-anchor="start" font-weight="normal" >pts. at risk</text>
<text x="268.7" y="223.3" font-size="7.6" fill="#1a1a1a" stroke="#1a1a1a" stroke-width="0.22" text-anchor="start" font-weight="normal" >pts. at risk</text>
<text x="23.9" y="234.95" font-size="7.6" fill="#1a1a1a" stroke="#1a1a1a" stroke-width="0.22" text-anchor="middle" font-weight="normal" >very low</text>
<text x="286.4" y="234.95" font-size="7.6" fill="#1a1a1a" stroke="#1a1a1a" stroke-width="0.22" text-anchor="middle" font-weight="normal" >very low</text>
<text x="75.75" y="234.95" font-size="7.6" fill="#1a1a1a" stroke="#1a1a1a" stroke-width="0.22" text-anchor="end" font-weight="normal" >1355</text>
<text x="105.55" y="234.95" font-size="7.6" fill="#1a1a1a" stroke="#1a1a1a" stroke-width="0.22" text-anchor="end" font-weight="normal" >967</text>
<text x="135.35" y="234.95" font-size="7.6" fill="#1a1a1a" stroke="#1a1a1a" stroke-width="0.22" text-anchor="end" font-weight="normal" >632</text>
<text x="163.04" y="234.95" font-size="7.6" fill="#1a1a1a" stroke="#1a1a1a" stroke-width="0.22" text-anchor="end" font-weight="normal" >377</text>
<text x="192.84" y="234.95" font-size="7.6" fill="#1a1a1a" stroke="#1a1a1a" stroke-width="0.22" text-anchor="end" font-weight="normal" >224</text>
<text x="222.64" y="234.95" font-size="7.6" fill="#1a1a1a" stroke="#1a1a1a" stroke-width="0.22" text-anchor="end" font-weight="normal" >138</text>
<text x="250.33" y="234.95" font-size="7.6" fill="#1a1a1a" stroke="#1a1a1a" stroke-width="0.22" text-anchor="end" font-weight="normal" >78</text>
<text x="330.05" y="234.95" font-size="7.6" fill="#1a1a1a" stroke="#1a1a1a" stroke-width="0.22" text-anchor="end" font-weight="normal" >1355</text>
<text x="356.25" y="234.95" font-size="7.6" fill="#1a1a1a" stroke="#1a1a1a" stroke-width="0.22" text-anchor="end" font-weight="normal" >1355</text>
<text x="382.45" y="234.95" font-size="7.6" fill="#1a1a1a" stroke="#1a1a1a" stroke-width="0.22" text-anchor="end" font-weight="normal" >1304</text>
<text x="408.65" y="234.95" font-size="7.6" fill="#1a1a1a" stroke="#1a1a1a" stroke-width="0.22" text-anchor="end" font-weight="normal" >1238</text>
<text x="434.85" y="234.95" font-size="7.6" fill="#1a1a1a" stroke="#1a1a1a" stroke-width="0.22" text-anchor="end" font-weight="normal" >1195</text>
<text x="461.05" y="234.95" font-size="7.6" fill="#1a1a1a" stroke="#1a1a1a" stroke-width="0.22" text-anchor="end" font-weight="normal" >1161</text>
<text x="487.25" y="234.95" font-size="7.6" fill="#1a1a1a" stroke="#1a1a1a" stroke-width="0.22" text-anchor="end" font-weight="normal" >1121</text>
<text x="513.45" y="234.95" font-size="7.6" fill="#1a1a1a" stroke="#1a1a1a" stroke-width="0.22" text-anchor="end" font-weight="normal" >1083</text>
<text x="23.9" y="245.32" font-size="7.6" fill="#1a1a1a" stroke="#1a1a1a" stroke-width="0.22" text-anchor="middle" font-weight="normal" >low</text>
<text x="286.4" y="245.32" font-size="7.6" fill="#1a1a1a" stroke="#1a1a1a" stroke-width="0.22" text-anchor="middle" font-weight="normal" >low</text>
<text x="75.75" y="245.32" font-size="7.6" fill="#1a1a1a" stroke="#1a1a1a" stroke-width="0.22" text-anchor="end" font-weight="normal" >2723</text>
<text x="105.55" y="245.32" font-size="7.6" fill="#1a1a1a" stroke="#1a1a1a" stroke-width="0.22" text-anchor="end" font-weight="normal" >1730</text>
<text x="135.35" y="245.32" font-size="7.6" fill="#1a1a1a" stroke="#1a1a1a" stroke-width="0.22" text-anchor="end" font-weight="normal" >1054</text>
<text x="163.04" y="245.32" font-size="7.6" fill="#1a1a1a" stroke="#1a1a1a" stroke-width="0.22" text-anchor="end" font-weight="normal" >599</text>
<text x="192.84" y="245.32" font-size="7.6" fill="#1a1a1a" stroke="#1a1a1a" stroke-width="0.22" text-anchor="end" font-weight="normal" >322</text>
<text x="222.64" y="245.32" font-size="7.6" fill="#1a1a1a" stroke="#1a1a1a" stroke-width="0.22" text-anchor="end" font-weight="normal" >175</text>
<text x="250.33" y="245.32" font-size="7.6" fill="#1a1a1a" stroke="#1a1a1a" stroke-width="0.22" text-anchor="end" font-weight="normal" >97</text>
<text x="330.05" y="245.32" font-size="7.6" fill="#1a1a1a" stroke="#1a1a1a" stroke-width="0.22" text-anchor="end" font-weight="normal" >2723</text>
<text x="356.25" y="245.32" font-size="7.6" fill="#1a1a1a" stroke="#1a1a1a" stroke-width="0.22" text-anchor="end" font-weight="normal" >2723</text>
<text x="382.45" y="245.32" font-size="7.6" fill="#1a1a1a" stroke="#1a1a1a" stroke-width="0.22" text-anchor="end" font-weight="normal" >2591</text>
<text x="408.65" y="245.32" font-size="7.6" fill="#1a1a1a" stroke="#1a1a1a" stroke-width="0.22" text-anchor="end" font-weight="normal" >2459</text>
<text x="434.85" y="245.32" font-size="7.6" fill="#1a1a1a" stroke="#1a1a1a" stroke-width="0.22" text-anchor="end" font-weight="normal" >2349</text>
<text x="461.05" y="245.32" font-size="7.6" fill="#1a1a1a" stroke="#1a1a1a" stroke-width="0.22" text-anchor="end" font-weight="normal" >2250</text>
<text x="487.25" y="245.32" font-size="7.6" fill="#1a1a1a" stroke="#1a1a1a" stroke-width="0.22" text-anchor="end" font-weight="normal" >2142</text>
<text x="513.45" y="245.32" font-size="7.6" fill="#1a1a1a" stroke="#1a1a1a" stroke-width="0.22" text-anchor="end" font-weight="normal" >2052</text>
<text x="23.9" y="255.69" font-size="7.6" fill="#1a1a1a" stroke="#1a1a1a" stroke-width="0.22" text-anchor="middle" font-weight="normal" >int</text>
<text x="286.4" y="255.69" font-size="7.6" fill="#1a1a1a" stroke="#1a1a1a" stroke-width="0.22" text-anchor="middle" font-weight="normal" >int</text>
<text x="75.75" y="255.69" font-size="7.6" fill="#1a1a1a" stroke="#1a1a1a" stroke-width="0.22" text-anchor="end" font-weight="normal" >1470</text>
<text x="105.55" y="255.69" font-size="7.6" fill="#1a1a1a" stroke="#1a1a1a" stroke-width="0.22" text-anchor="end" font-weight="normal" >767</text>
<text x="135.35" y="255.69" font-size="7.6" fill="#1a1a1a" stroke="#1a1a1a" stroke-width="0.22" text-anchor="end" font-weight="normal" >386</text>
<text x="163.04" y="255.69" font-size="7.6" fill="#1a1a1a" stroke="#1a1a1a" stroke-width="0.22" text-anchor="end" font-weight="normal" >193</text>
<text x="192.84" y="255.69" font-size="7.6" fill="#1a1a1a" stroke="#1a1a1a" stroke-width="0.22" text-anchor="end" font-weight="normal" >99</text>
<text x="222.64" y="255.69" font-size="7.6" fill="#1a1a1a" stroke="#1a1a1a" stroke-width="0.22" text-anchor="end" font-weight="normal" >56</text>
<text x="250.33" y="255.69" font-size="7.6" fill="#1a1a1a" stroke="#1a1a1a" stroke-width="0.22" text-anchor="end" font-weight="normal" >34</text>
<text x="330.05" y="255.69" font-size="7.6" fill="#1a1a1a" stroke="#1a1a1a" stroke-width="0.22" text-anchor="end" font-weight="normal" >1470</text>
<text x="356.25" y="255.69" font-size="7.6" fill="#1a1a1a" stroke="#1a1a1a" stroke-width="0.22" text-anchor="end" font-weight="normal" >1470</text>
<text x="382.45" y="255.69" font-size="7.6" fill="#1a1a1a" stroke="#1a1a1a" stroke-width="0.22" text-anchor="end" font-weight="normal" >1396</text>
<text x="408.65" y="255.69" font-size="7.6" fill="#1a1a1a" stroke="#1a1a1a" stroke-width="0.22" text-anchor="end" font-weight="normal" >1292</text>
<text x="434.85" y="255.69" font-size="7.6" fill="#1a1a1a" stroke="#1a1a1a" stroke-width="0.22" text-anchor="end" font-weight="normal" >1200</text>
<text x="461.05" y="255.69" font-size="7.6" fill="#1a1a1a" stroke="#1a1a1a" stroke-width="0.22" text-anchor="end" font-weight="normal" >1120</text>
<text x="487.25" y="255.69" font-size="7.6" fill="#1a1a1a" stroke="#1a1a1a" stroke-width="0.22" text-anchor="end" font-weight="normal" >1037</text>
<text x="513.45" y="255.69" font-size="7.6" fill="#1a1a1a" stroke="#1a1a1a" stroke-width="0.22" text-anchor="end" font-weight="normal" >960</text>
<text x="23.9" y="266.06" font-size="7.6" fill="#1a1a1a" stroke="#1a1a1a" stroke-width="0.22" text-anchor="middle" font-weight="normal" >high</text>
<text x="286.4" y="266.06" font-size="7.6" fill="#1a1a1a" stroke="#1a1a1a" stroke-width="0.22" text-anchor="middle" font-weight="normal" >high</text>
<text x="75.75" y="266.06" font-size="7.6" fill="#1a1a1a" stroke="#1a1a1a" stroke-width="0.22" text-anchor="end" font-weight="normal" >927</text>
<text x="105.55" y="266.06" font-size="7.6" fill="#1a1a1a" stroke="#1a1a1a" stroke-width="0.22" text-anchor="end" font-weight="normal" >345</text>
<text x="135.35" y="266.06" font-size="7.6" fill="#1a1a1a" stroke="#1a1a1a" stroke-width="0.22" text-anchor="end" font-weight="normal" >125</text>
<text x="163.04" y="266.06" font-size="7.6" fill="#1a1a1a" stroke="#1a1a1a" stroke-width="0.22" text-anchor="end" font-weight="normal" >70</text>
<text x="192.84" y="266.06" font-size="7.6" fill="#1a1a1a" stroke="#1a1a1a" stroke-width="0.22" text-anchor="end" font-weight="normal" >37</text>
<text x="222.64" y="266.06" font-size="7.6" fill="#1a1a1a" stroke="#1a1a1a" stroke-width="0.22" text-anchor="end" font-weight="normal" >23</text>
<text x="250.33" y="266.06" font-size="7.6" fill="#1a1a1a" stroke="#1a1a1a" stroke-width="0.22" text-anchor="end" font-weight="normal" >16</text>
<text x="330.05" y="266.06" font-size="7.6" fill="#1a1a1a" stroke="#1a1a1a" stroke-width="0.22" text-anchor="end" font-weight="normal" >927</text>
<text x="356.25" y="266.06" font-size="7.6" fill="#1a1a1a" stroke="#1a1a1a" stroke-width="0.22" text-anchor="end" font-weight="normal" >927</text>
<text x="382.45" y="266.06" font-size="7.6" fill="#1a1a1a" stroke="#1a1a1a" stroke-width="0.22" text-anchor="end" font-weight="normal" >835</text>
<text x="408.65" y="266.06" font-size="7.6" fill="#1a1a1a" stroke="#1a1a1a" stroke-width="0.22" text-anchor="end" font-weight="normal" >749</text>
<text x="434.85" y="266.06" font-size="7.6" fill="#1a1a1a" stroke="#1a1a1a" stroke-width="0.22" text-anchor="end" font-weight="normal" >668</text>
<text x="461.05" y="266.06" font-size="7.6" fill="#1a1a1a" stroke="#1a1a1a" stroke-width="0.22" text-anchor="end" font-weight="normal" >588</text>
<text x="487.25" y="266.06" font-size="7.6" fill="#1a1a1a" stroke="#1a1a1a" stroke-width="0.22" text-anchor="end" font-weight="normal" >533</text>
<text x="513.45" y="266.06" font-size="7.6" fill="#1a1a1a" stroke="#1a1a1a" stroke-width="0.22" text-anchor="end" font-weight="normal" >482</text>
<text x="23.9" y="276.43" font-size="7.6" fill="#1a1a1a" stroke="#1a1a1a" stroke-width="0.22" text-anchor="middle" font-weight="normal" >very high</text>
<text x="286.4" y="276.43" font-size="7.6" fill="#1a1a1a" stroke="#1a1a1a" stroke-width="0.22" text-anchor="middle" font-weight="normal" >very high</text>
<text x="75.75" y="276.43" font-size="7.6" fill="#1a1a1a" stroke="#1a1a1a" stroke-width="0.22" text-anchor="end" font-weight="normal" >737</text>
<text x="105.55" y="276.43" font-size="7.6" fill="#1a1a1a" stroke="#1a1a1a" stroke-width="0.22" text-anchor="end" font-weight="normal" >124</text>
<text x="135.35" y="276.43" font-size="7.6" fill="#1a1a1a" stroke="#1a1a1a" stroke-width="0.22" text-anchor="end" font-weight="normal" >36</text>
<text x="163.04" y="276.43" font-size="7.6" fill="#1a1a1a" stroke="#1a1a1a" stroke-width="0.22" text-anchor="end" font-weight="normal" >15</text>
<text x="192.84" y="276.43" font-size="7.6" fill="#1a1a1a" stroke="#1a1a1a" stroke-width="0.22" text-anchor="end" font-weight="normal" >8</text>
<text x="222.64" y="276.43" font-size="7.6" fill="#1a1a1a" stroke="#1a1a1a" stroke-width="0.22" text-anchor="end" font-weight="normal" >5</text>
<text x="250.33" y="276.43" font-size="7.6" fill="#1a1a1a" stroke="#1a1a1a" stroke-width="0.22" text-anchor="end" font-weight="normal" >2</text>
<text x="330.05" y="276.43" font-size="7.6" fill="#1a1a1a" stroke="#1a1a1a" stroke-width="0.22" text-anchor="end" font-weight="normal" >737</text>
<text x="356.25" y="276.43" font-size="7.6" fill="#1a1a1a" stroke="#1a1a1a" stroke-width="0.22" text-anchor="end" font-weight="normal" >736</text>
<text x="382.45" y="276.43" font-size="7.6" fill="#1a1a1a" stroke="#1a1a1a" stroke-width="0.22" text-anchor="end" font-weight="normal" >592</text>
<text x="408.65" y="276.43" font-size="7.6" fill="#1a1a1a" stroke="#1a1a1a" stroke-width="0.22" text-anchor="end" font-weight="normal" >472</text>
<text x="434.85" y="276.43" font-size="7.6" fill="#1a1a1a" stroke="#1a1a1a" stroke-width="0.22" text-anchor="end" font-weight="normal" >372</text>
<text x="461.05" y="276.43" font-size="7.6" fill="#1a1a1a" stroke="#1a1a1a" stroke-width="0.22" text-anchor="end" font-weight="normal" >304</text>
<text x="487.25" y="276.43" font-size="7.6" fill="#1a1a1a" stroke="#1a1a1a" stroke-width="0.22" text-anchor="end" font-weight="normal" >245</text>
<text x="513.45" y="276.43" font-size="7.6" fill="#1a1a1a" stroke="#1a1a1a" stroke-width="0.22" text-anchor="end" font-weight="normal" >203</text>
<rect x="0" y="0" width="520" height="1" fill="#111"/>
<rect x="0" y="0" width="1" height="285" fill="#111"/>
<rect x="518.8" y="0" width="1.2" height="285" fill="#111"/>
<rect x="0" y="283.5" width="520" height="1.5" fill="#111"/>
</svg>
</body></html>
